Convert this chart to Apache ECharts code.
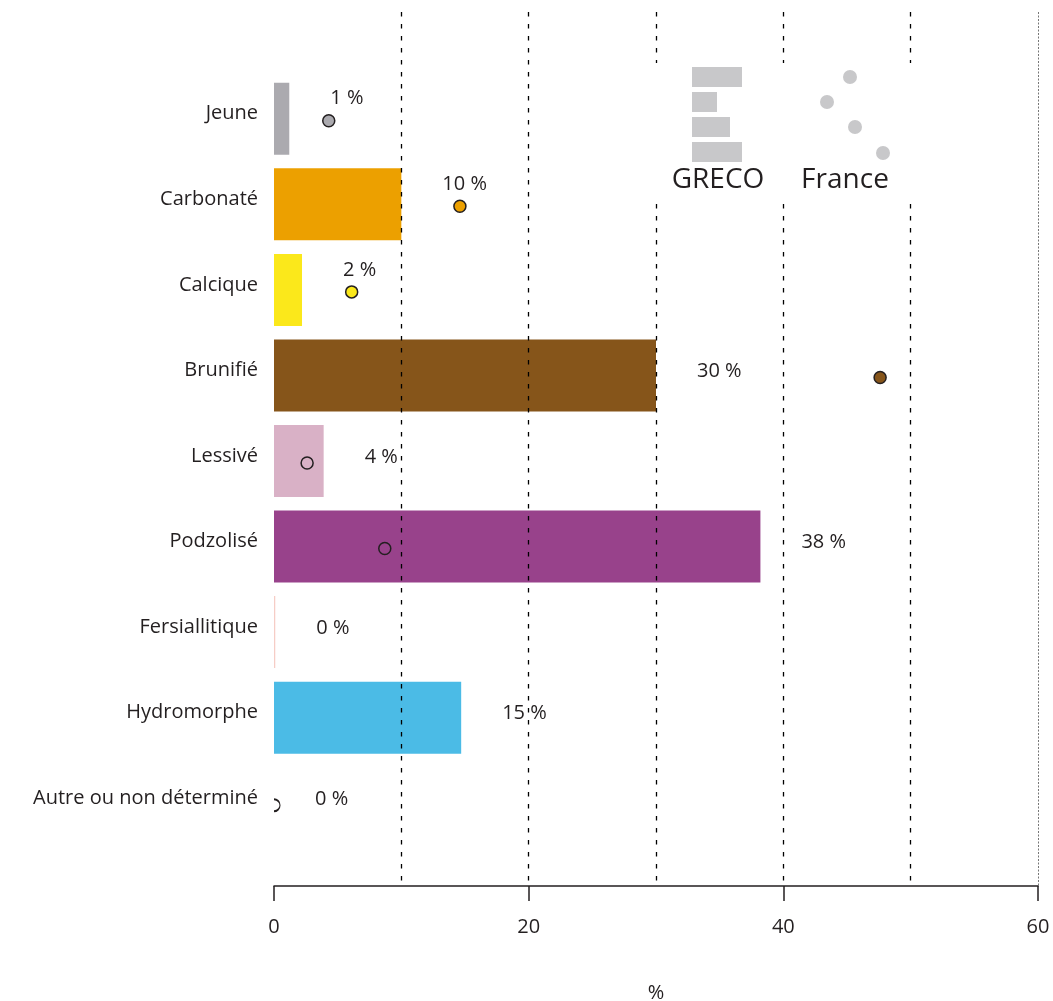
<!DOCTYPE html>
<html><head><meta charset="utf-8">
<script src="https://cdn.jsdelivr.net/npm/echarts@6/dist/echarts.min.js"></script>
<style>html,body{margin:0;padding:0;background:#fff}#c{width:1053px;height:1001px}</style>
</head><body><div id="c"></div>
<script>
// ---- data ----
const categories = ['Jeune','Carbonaté','Calcique','Brunifié','Lessivé','Podzolisé','Fersiallitique','Hydromorphe','Autre ou non déterminé'];
const grecoValues = [1.2, 10.0, 2.2, 30.0, 3.9, 38.2, 0.1, 14.7, 0];
const franceValues = [4.3, 14.6, 6.1, 47.6, 2.6, 8.7, null, null, 0];
const colors = ['#abaaaf','#eca000','#fbe81b','#86551a','#d9b1c6','#98428b','#f6cdc6','#4bbbe6','#ffffff'];
const axisMin = 0, axisMax = 60, axisStep = 20, gridStep = 10;
const axisName = '%';
const legendNames = ['GRECO','France'];

const FONT = '"Open Sans", "DejaVu Sans", sans-serif';
const INK = '#231f20';

const chart = echarts.init(document.getElementById('c'), null, {renderer:'canvas'});

const barData = grecoValues.map((v, i) => {
  const p = franceValues[i];
  const raise = (p != null && p > v && p < v + 7);
  return { value: v, label: { offset: [0, raise ? -20 : -4] } };
});

const pointData = franceValues.map((p, i) => {
  if (p == null) return null;
  const item = { value: [p, categories[i]], itemStyle: { color: colors[i] } };
  if (p === 0) {
    item.symbol = 'path://M0,0 A10,10 0 0 1 0,20';
    item.symbolSize = [6, 12];
    item.symbolOffset = [3, 2];
    item.itemStyle = { color: 'rgba(0,0,0,0)', borderColor: INK, borderWidth: 1.5 };
  }
  return item;
}).filter(d => d !== null);

const legendGraphic = {
  type: 'group', z: 100, silent: true,
  children: [
    { type: 'rect', shape: { x: 640, y: 63, width: 290, height: 134 }, style: { fill: '#ffffff' }, z: 100 },
    { type: 'rect', shape: { x: 692, y: 67, width: 50, height: 20 }, style: { fill: '#c8c8ca' }, z: 101 },
    { type: 'rect', shape: { x: 692, y: 92, width: 25, height: 20 }, style: { fill: '#c8c8ca' }, z: 101 },
    { type: 'rect', shape: { x: 692, y: 117, width: 38, height: 20 }, style: { fill: '#c8c8ca' }, z: 101 },
    { type: 'rect', shape: { x: 692, y: 142, width: 50, height: 20 }, style: { fill: '#c8c8ca' }, z: 101 },
    { type: 'circle', shape: { cx: 850, cy: 77, r: 7 }, style: { fill: '#c8c8ca' }, z: 101 },
    { type: 'circle', shape: { cx: 827, cy: 102, r: 7 }, style: { fill: '#c8c8ca' }, z: 101 },
    { type: 'circle', shape: { cx: 855, cy: 127, r: 7 }, style: { fill: '#c8c8ca' }, z: 101 },
    { type: 'circle', shape: { cx: 883, cy: 153, r: 7 }, style: { fill: '#c8c8ca' }, z: 101 },
    { type: 'text', x: 718, y: 180, style: { text: legendNames[0], fill: INK, font: '28px ' + FONT, align: 'center', verticalAlign: 'middle' }, z: 101 },
    { type: 'text', x: 845, y: 180, style: { text: legendNames[1], fill: INK, font: '28px ' + FONT, align: 'center', verticalAlign: 'middle' }, z: 101 }
  ]
};

const option = {
  backgroundColor: '#ffffff',
  animation: false,
  textStyle: { fontFamily: FONT, color: INK },
  grid: [
    { left: 274, width: 764, top: 12, height: 874, containLabel: false, outerBoundsMode: 'none' },
    { left: 274, width: 764, top: 76, height: 770, containLabel: false, outerBoundsMode: 'none' }
  ],
  xAxis: [
    { // visible axis with ticks/labels
      gridIndex: 0, type: 'value', min: axisMin, max: axisMax, interval: axisStep, position: 'bottom', z: 5,
      name: axisName, nameLocation: 'middle', nameGap: 97,
      nameTextStyle: { fontSize: 20, color: INK, fontFamily: FONT },
      axisLine: { show: true, lineStyle: { color: INK, width: 1.5 } },
      axisTick: { show: true, length: 15, lineStyle: { color: INK, width: 1.5 } },
      axisLabel: { margin: 31, fontSize: 20, color: INK, fontFamily: FONT },
      splitLine: { show: false }
    },
    { // dashed reference lines
      gridIndex: 0, type: 'value', min: axisMin, max: axisMax, interval: gridStep, position: 'top', z: 5,
      axisLine: { show: false }, axisTick: { show: false }, axisLabel: { show: false },
      splitLine: { show: true, showMinLine: false, showMaxLine: false, lineStyle: { color: '#000', width: 1.3, type: [4.5, 7.5] } }
    },
    { // faint dotted line at max
      gridIndex: 0, type: 'value', min: axisMin, max: axisMax, interval: axisMax - axisMin, position: 'top', z: 4,
      axisLine: { show: false }, axisTick: { show: false }, axisLabel: { show: false },
      splitLine: { show: true, showMinLine: false, showMaxLine: true, lineStyle: { color: '#777', width: 1, type: [2, 1.5] } }
    },
    { // bars axis
      gridIndex: 1, type: 'value', min: axisMin, max: axisMax, show: false,
      splitLine: { show: false }
    }
  ],
  yAxis: [
    { gridIndex: 0, type: 'value', show: false, min: 0, max: 1 },
    {
      gridIndex: 1, type: 'category', data: categories, inverse: true,
      axisLine: { show: false }, axisTick: { show: false },
      axisLabel: {
        margin: 16, fontSize: 20, color: INK, fontFamily: FONT,
        formatter: v => '{a|' + v + '}',
        rich: { a: { fontSize: 20, color: INK, fontFamily: FONT, padding: [0, 0, 10, 0] } }
      },
      splitLine: { show: false }
    }
  ],
  series: [
    {
      type: 'bar', xAxisIndex: 3, yAxisIndex: 1, data: barData, barWidth: 72, z: 2,
      itemStyle: { color: p => colors[p.dataIndex] },
      label: {
        show: true, position: 'right', distance: 41, fontSize: 20, color: INK, fontFamily: FONT,
        formatter: p => Math.round(p.value) + ' %'
      }
    },
    {
      type: 'scatter', xAxisIndex: 3, yAxisIndex: 1, data: pointData, z: 3,
      symbol: 'circle', symbolSize: 12, symbolOffset: [0, 2],
      itemStyle: { borderColor: INK, borderWidth: 1.5, opacity: 1 }
    }
  ],
  graphic: [legendGraphic]
};
chart.setOption(option);
</script>
</body></html>
